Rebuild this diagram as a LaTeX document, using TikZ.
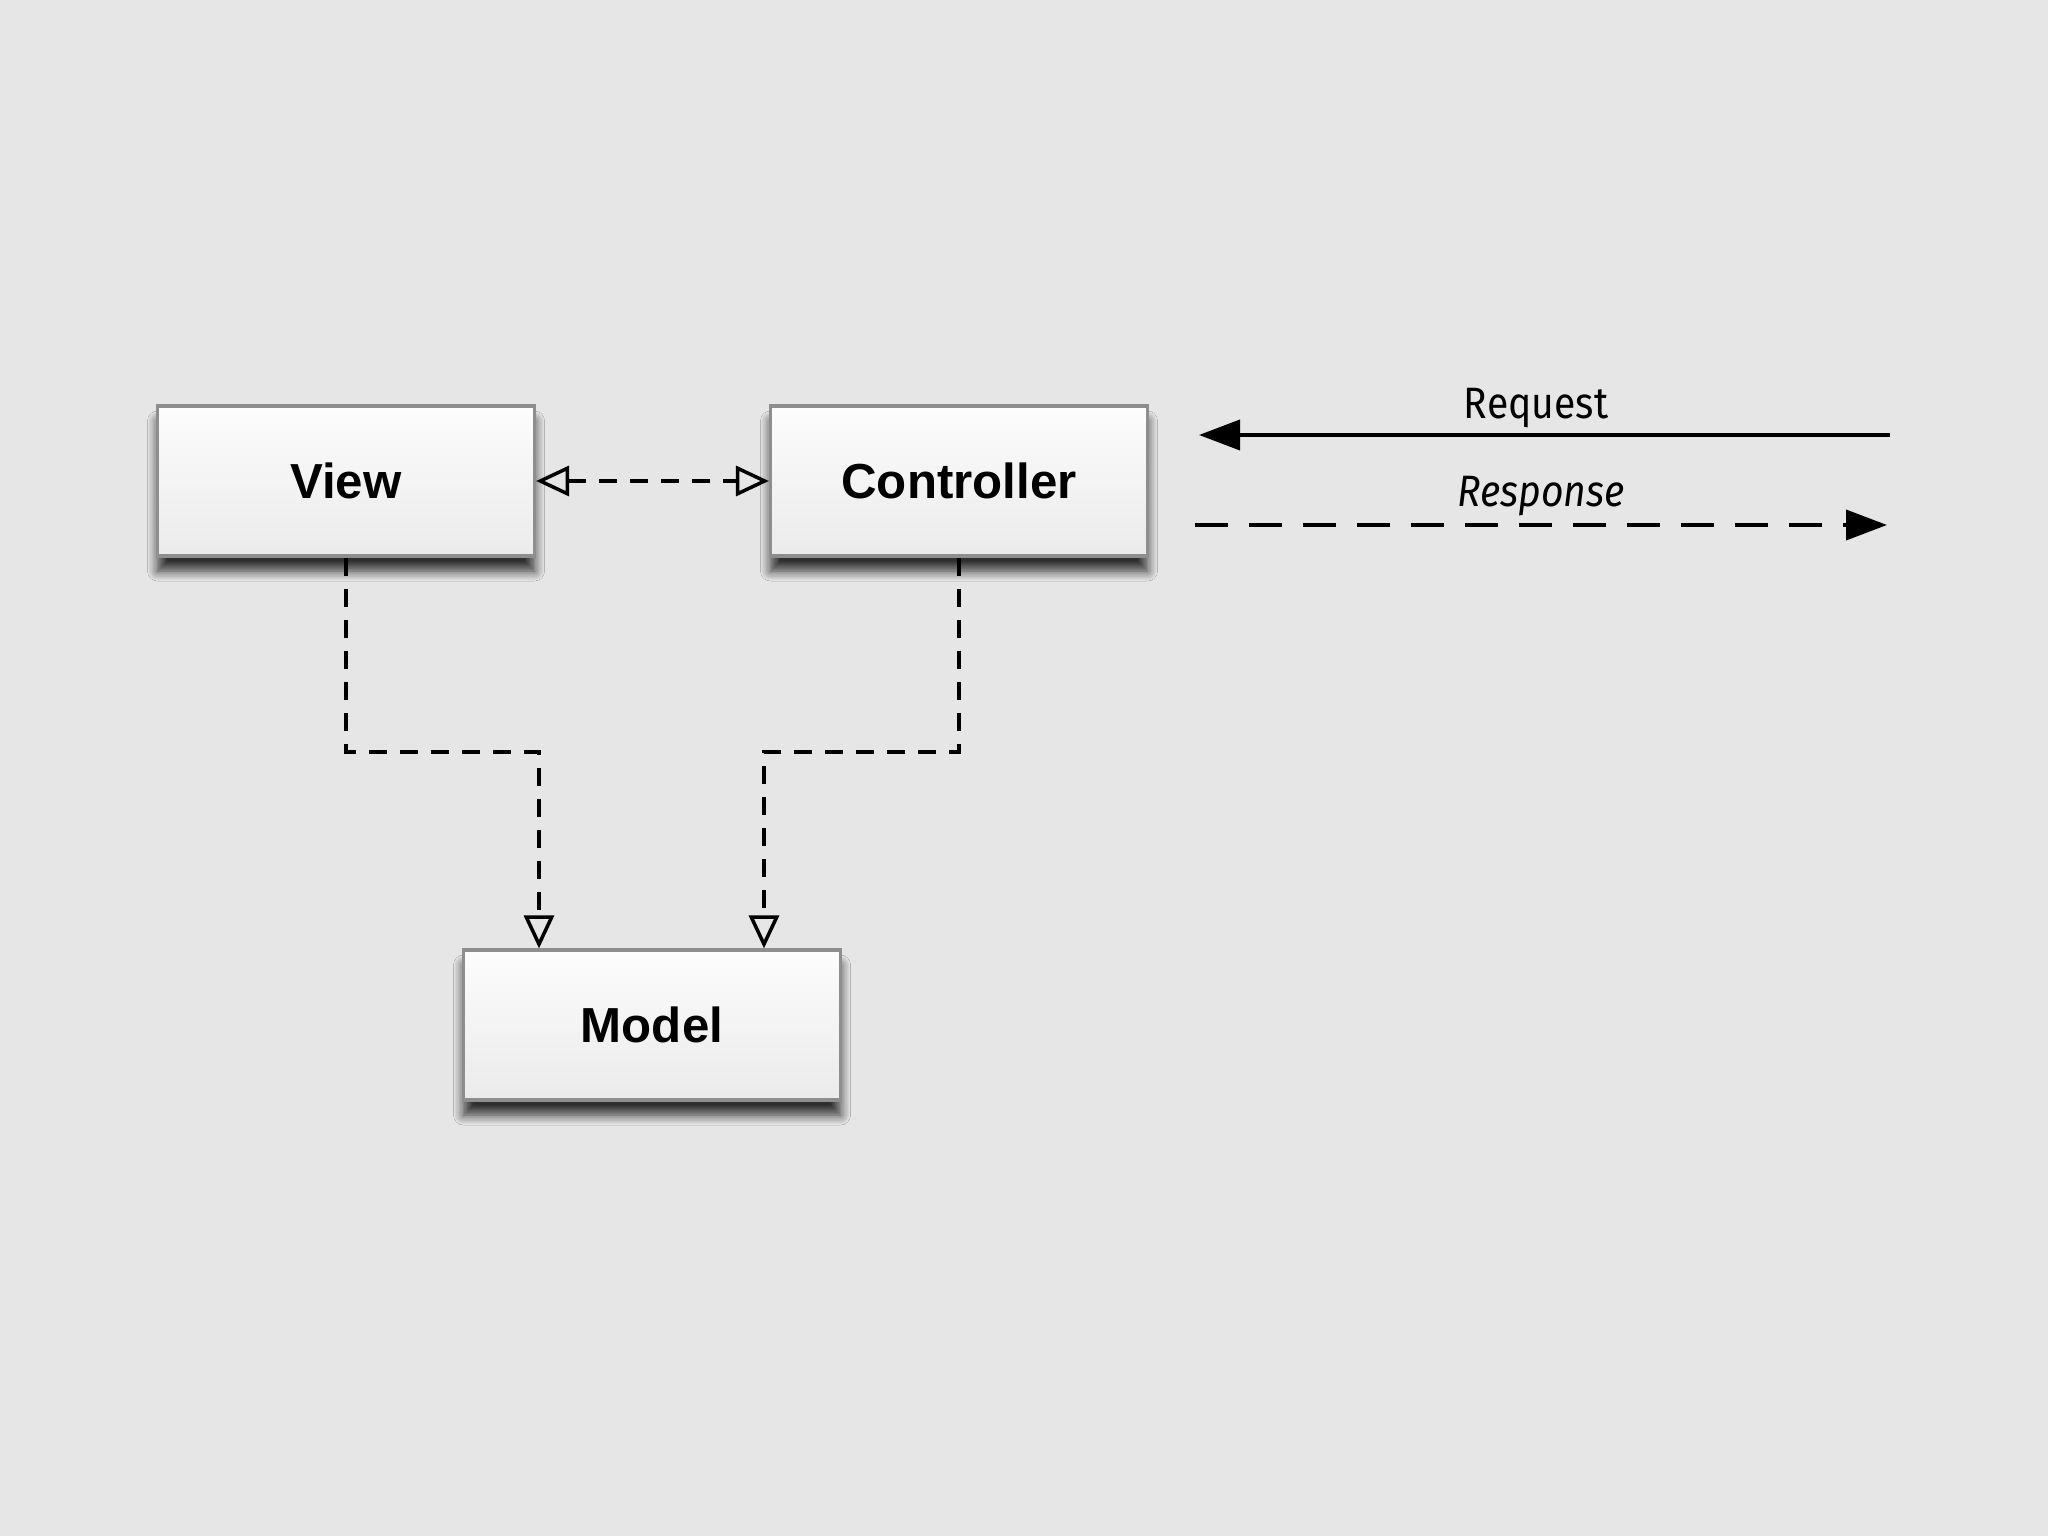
\documentclass[tikz,border=0pt]{standalone}
\usepackage{fontspec}
\usepackage{xcolor}
\usepackage{tikz}
\usetikzlibrary{arrows.meta,positioning,calc,shadows.blur}
\setmainfont{Liberation Sans}
\newfontfamily\notefont{Fira Sans}[FakeStretch=0.89]
\definecolor{paper}{HTML}{E6E6E6}
\definecolor{edge}{HTML}{8E8E8E}

\begin{document}
\begin{tikzpicture}[
    mvcbox/.style={rectangle, draw=edge, line width=0.9pt, top color=white!98!gray, bottom color=gray!16,
        minimum width=3.77cm, minimum height=1.50cm, font=\fontsize{14}{16}\selectfont\bfseries,
        blur shadow={shadow xshift=0cm, shadow yshift=-0.15cm, shadow blur radius=0.1cm, shadow blur steps=8, shadow opacity=80}},
    dep/.style={draw=black, line width=1pt, dash pattern=on 0.18cm off 0.13cm, -{Triangle[open, length=0.33cm, width=0.3cm]}},
    msg/.style={draw=black, line width=1.1pt, -{Triangle[length=0.41cm, width=0.3cm]}},
    note/.style={font=\notefont\fontsize{12.5}{14}\selectfont}
]
    \fill[paper] (0,0) rectangle (20.48,-15.36);
    \useasboundingbox (0,0) rectangle (20.48,-15.36);

    % the three parts
    \node[mvcbox] (view) at (3.46,-4.81) {View};
    \node[mvcbox] (ctrl) at (9.59,-4.81) {Controller};
    \node[mvcbox] (model) at (6.52,-10.25) {Model};

    \coordinate (vbend) at (5.39,-7.52);
    \coordinate (cbend) at (7.64,-7.52);

    \draw[dep, {Triangle[open, length=0.33cm, width=0.3cm]}-{Triangle[open, length=0.33cm, width=0.3cm]}] (view.east) -- (ctrl.west);
    \draw[dep] (view.south) |- (vbend) -- (vbend |- model.north);
    \draw[dep] (ctrl.south) |- (cbend) -- (cbend |- model.north);

    % legend
    \coordinate (reqa) at (18.90,-4.35);
    \coordinate (reqb) at (11.99,-4.35);
    \coordinate (resa) at (11.95,-5.25);
    \coordinate (resb) at (18.87,-5.25);

    \draw[msg] (reqa) -- (reqb);
    \draw[msg, dash pattern=on 0.33cm off 0.21cm] (resa) -- (resb);
    \node[note] (req) at (15.36,-4.08) {Request};
    \node[note, font=\notefont\itshape\fontsize{12.5}{14}\selectfont] (res) at (15.41,-4.96) {Response};
\end{tikzpicture}
\end{document}
